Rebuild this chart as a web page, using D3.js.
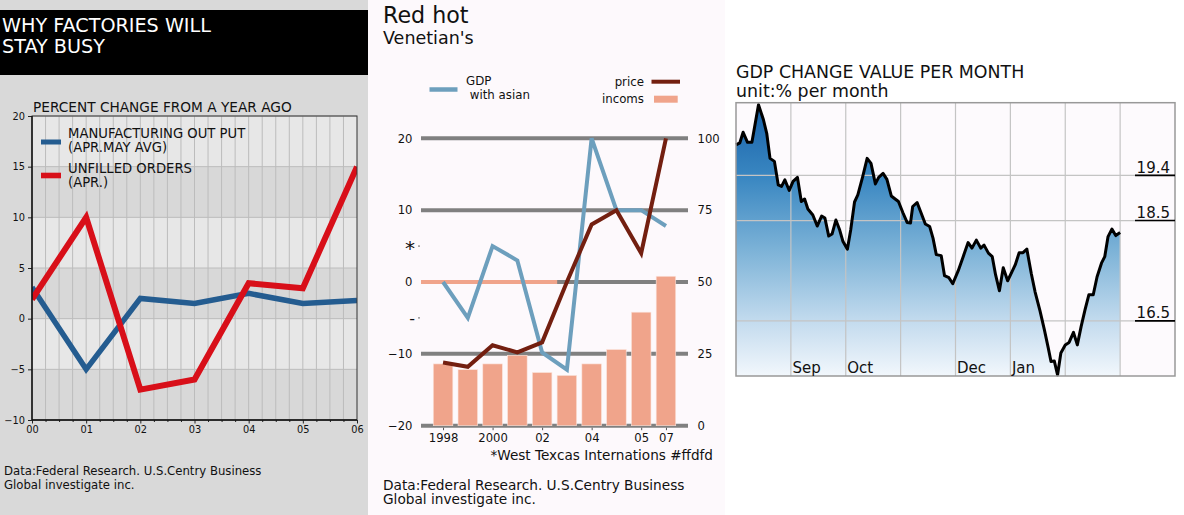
<!DOCTYPE html>
<html><head><meta charset="utf-8">
<script src="https://cdn.jsdelivr.net/npm/d3@7"></script>
<style>html,body{margin:0;padding:0;background:#fff;}svg{display:block;font-family:"DejaVu Sans",sans-serif;}</style>
</head><body>
<script>
// ---------- Left panel data ----------
const leftYears = ["00","01","02","03","04","05","06"];
const mfgOutput = [3.1, -5, 2, 1.5, 2.5, 1.5, 1.8];
const unfilledOrders = [1.9, 10, -7, -6, 3.5, 3, 15];
const leftYTicks = [-10, -5, 0, 5, 10, 15, 20];

// ---------- Middle panel data ----------
const midYears = ["1998","1999","2000","2001","2002","2003","2004","2005","2006","2007"];
const midXLabels = {"1998":"1998","2000":"2000","2002":"02","2004":"04","2006":"05","2007":"07"};
const gdpAsian = [0, -5, 5, 3, -9.8, -12.2, 20, 10, 10, 7.8];
const price = [22, 20.5, 28, 25.5, 29, 50, 70, 75, 60, 100];
const incoms = [21.5, 19.5, 21.5, 24.5, 18.5, 17.5, 21.5, 26.5, 39.5, 52];
const midLeftTicks = [-20, -10, 0, 10, 20];
const midOddTicks = [[5, "*"], [-5, "-"]];
const midRightTicks = [0, 25, 50, 75, 100];

// ---------- Right panel data ----------
const gdpMonthT = [0,0.07,0.13,0.21,0.29,0.41,0.50,0.56,0.62,0.70,0.77,0.83,0.89,0.97,1.04,1.12,1.19,1.25,1.31,1.40,1.48,1.56,1.62,1.69,1.75,1.82,1.89,1.95,2.03,2.09,2.16,2.22,2.31,2.39,2.46,2.54,2.60,2.68,2.75,2.83,2.90,2.96,3.04,3.12,3.18,3.22,3.30,3.37,3.45,3.53,3.59,3.65,3.74,3.80,3.88,3.95,4.05,4.14,4.23,4.30,4.38,4.46,4.52,4.60,4.67,4.73,4.80,4.87,4.95,5.03,5.09,5.16,5.23,5.30,5.38,5.45,5.54,5.62,5.69,5.74,5.80,5.86,5.92,6.00,6.07,6.15,6.22,6.29,6.36,6.43,6.51,6.58,6.66,6.72,6.78,6.85,6.92,7.00];
const gdpMonthV = [20.01,20.05,20.26,20.06,20.06,20.81,20.51,20.24,19.74,19.68,19.21,19.18,19.31,19.10,19.28,19.36,18.88,18.93,18.73,18.61,18.39,18.59,18.55,18.19,18.23,18.51,18.31,18.08,17.93,18.31,18.87,19.01,19.38,19.74,19.64,19.23,19.36,19.44,19.32,18.99,18.93,18.88,18.66,18.46,18.45,18.78,18.86,18.66,18.43,18.38,18.15,17.82,17.80,17.40,17.36,17.24,17.50,17.78,18.06,17.95,18.11,17.95,18.01,17.85,17.78,17.42,17.10,17.56,17.30,17.48,17.62,17.86,17.86,17.93,17.45,17.08,16.70,16.32,15.96,15.69,15.70,15.42,15.86,16.02,16.07,16.27,16.02,16.39,16.72,17.02,17.02,17.38,17.65,17.78,18.18,18.33,18.20,18.26];
const monthTicks = [1, 2, 3, 4, 5, 6, 7];
const monthLabels = ["Sep", "Oct", "", "Dec", "Jan", "", ""];
const gdpLevels = [16.5, 18.5, 19.4];

const svg = d3.select("body").append("svg").attr("width", 1184).attr("height", 515);
const FONT = "DejaVu Sans";

// ================= LEFT PANEL =================
svg.append("rect").attr("x", 0).attr("y", 0).attr("width", 368).attr("height", 515).attr("fill", "#d9d9d9");
svg.append("rect").attr("x", 0).attr("y", 10).attr("width", 368).attr("height", 65).attr("fill", "#000");
svg.append("text").attr("x", 2).attr("y", 31.5).attr("fill", "#fff").attr("font-size", 19.2).text("WHY FACTORIES WILL");
svg.append("text").attr("x", 2).attr("y", 53.3).attr("fill", "#fff").attr("font-size", 19.2).text("STAY BUSY");
svg.append("text").attr("x", 33).attr("y", 111.5).attr("fill", "#111").attr("font-size", 13.7).text("PERCENT CHANGE FROM A YEAR AGO");

const lx = d3.scaleLinear().domain([0, 6]).range([32, 357]);
const ly = d3.scaleLinear().domain([-10, 20]).range([420, 116]);
const L = svg.append("g");
// alternating bands
d3.range(-10, 20, 5).forEach(b => {
  L.append("rect").attr("x", lx(0)).attr("width", lx(6) - lx(0))
    .attr("y", ly(b + 5)).attr("height", ly(b) - ly(b + 5))
    .attr("fill", (Math.abs(b / 5) % 2 === 1) ? "#e7e7e7" : "#d8d8d8");
});
// minor vertical grid
L.selectAll(".vg").data(d3.range(0.25, 6, 0.25)).join("line")
  .attr("x1", d => lx(d)).attr("x2", d => lx(d)).attr("y1", ly(20)).attr("y2", ly(-10))
  .attr("stroke", "#bcbcbc").attr("stroke-width", 1);
L.selectAll(".hg").data(leftYTicks).join("line")
  .attr("x1", lx(0)).attr("x2", lx(6)).attr("y1", d => ly(d)).attr("y2", d => ly(d))
  .attr("stroke", "#bcbcbc").attr("stroke-width", 1);
// axes
const lAxisY = L.append("g").attr("transform", `translate(${lx(0)},0)`)
  .call(d3.axisLeft(ly).tickValues(leftYTicks).tickSize(4).tickPadding(3).tickFormat(d => d < 0 ? "\u2212" + Math.abs(d) : d));
const lAxisX = L.append("g").attr("transform", `translate(0,${ly(-10)})`)
  .call(d3.axisBottom(lx).tickValues(d3.range(0, 7)).tickSize(3.5).tickPadding(2.5).tickFormat(d => leftYears[d]));
L.append("g").attr("transform", `translate(0,${ly(-10)})`)
  .call(d3.axisBottom(lx).tickValues(d3.range(0.25, 6, 0.25).filter(d => d % 1 !== 0)).tickSize(2).tickFormat(""))
  .select(".domain").remove();
[lAxisY, lAxisX].forEach(a => { a.selectAll("text").attr("font-size", 9.8).attr("fill", "#111").attr("font-family", FONT); a.select(".domain").remove(); });
L.selectAll(".tick line").attr("stroke", "#222");
// clip
svg.append("clipPath").attr("id", "lclip").append("rect").attr("x", lx(0)).attr("y", ly(20)).attr("width", lx(6) - lx(0)).attr("height", ly(-10) - ly(20));
const lline = d3.line().x((d, i) => lx(i)).y(d => ly(d));
L.append("path").datum(mfgOutput).attr("d", lline).attr("fill", "none").attr("stroke", "#245c90").attr("stroke-width", 5.5).attr("clip-path", "url(#lclip)");
L.append("path").datum(unfilledOrders).attr("d", lline).attr("fill", "none").attr("stroke", "#d80f19").attr("stroke-width", 6).attr("clip-path", "url(#lclip)");
// frame
L.append("rect").attr("x", lx(0)).attr("y", ly(20)).attr("width", lx(6) - lx(0)).attr("height", ly(-10) - ly(20)).attr("fill", "none").attr("stroke", "#333").attr("stroke-width", 1);
L.append("line").attr("x1", lx(0)).attr("x2", lx(0)).attr("y1", ly(20)).attr("y2", ly(-10)).attr("stroke", "#111").attr("stroke-width", 1.4);
L.append("line").attr("x1", lx(0)).attr("x2", lx(6)).attr("y1", ly(-10)).attr("y2", ly(-10)).attr("stroke", "#111").attr("stroke-width", 1.4);
// legend
L.append("rect").attr("x", 41).attr("y", 139.5).attr("width", 20).attr("height", 5).attr("fill", "#245c90");
L.append("rect").attr("x", 41).attr("y", 172.7).attr("width", 20).attr("height", 5.6).attr("fill", "#d80f19");
[["MANUFACTURING OUT PUT", 138.3], ["(APR.MAY AVG)", 152.3], ["UNFILLED ORDERS", 172.6], ["(APR.)", 186.6]].forEach(([t, y]) => {
  L.append("text").attr("x", 68).attr("y", y).attr("font-size", 13.2).attr("fill", "#111").text(t);
});
svg.append("text").attr("x", 4).attr("y", 475).attr("font-size", 11.7).attr("fill", "#111").text("Data:Federal Research. U.S.Centry Business");
svg.append("text").attr("x", 4).attr("y", 488.5).attr("font-size", 11.7).attr("fill", "#111").text("Global investigate inc.");

// ================= MIDDLE PANEL =================
svg.append("rect").attr("x", 368).attr("y", 0).attr("width", 357).attr("height", 515).attr("fill", "#fdf9fc");
svg.append("text").attr("x", 383).attr("y", 22.7).attr("font-size", 22.2).attr("fill", "#111").text("Red hot");
svg.append("text").attr("x", 383).attr("y", 44.3).attr("font-size", 17.5).attr("fill", "#111").text("Venetian's");

const mx = d3.scalePoint().domain(midYears).range([421, 688]).padding(0.89);
const myL = d3.scaleLinear().domain([-20, 20]).range([425.7, 138.3]);
const myR = d3.scaleLinear().domain([0, 100]).range([425.7, 138.3]);
const M = svg.append("g");
M.selectAll(".mg").data(midLeftTicks).join("line")
  .attr("x1", 421).attr("x2", 688).attr("y1", d => myL(d)).attr("y2", d => myL(d))
  .attr("stroke", "#808080").attr("stroke-width", 4);
// incoms reference line at 0 (axhline up to 51% of axis width)
M.append("line").attr("x1", 421).attr("x2", 421 + 0.51 * (688 - 421)).attr("y1", myL(0)).attr("y2", myL(0))
  .attr("stroke", "#f0a48b").attr("stroke-width", 4);
const bw = mx.step() * 0.79;
M.selectAll(".bar").data(incoms).join("rect")
  .attr("x", (d, i) => mx(midYears[i]) - bw / 2).attr("width", bw)
  .attr("y", d => myR(d)).attr("height", d => myR(0) - myR(d))
  .attr("fill", "#f0a48b").attr("stroke", "#fbe4dc").attr("stroke-width", 0.6);
M.append("path").datum(gdpAsian).attr("d", d3.line().x((d, i) => mx(midYears[i])).y(d => myL(d)))
  .attr("fill", "none").attr("stroke", "#6d9fbd").attr("stroke-width", 4);
M.append("path").datum(price).attr("d", d3.line().x((d, i) => mx(midYears[i])).y(d => myR(d)))
  .attr("fill", "none").attr("stroke", "#731f10").attr("stroke-width", 4);
// left labels
const mAxL = M.append("g").attr("transform", "translate(421,0)")
  .call(d3.axisLeft(myL).tickValues(midLeftTicks).tickSize(0).tickPadding(8.5).tickFormat(d => d < 0 ? "\u2212" + Math.abs(d) : d));
mAxL.select(".domain").remove();
mAxL.selectAll("text").attr("font-size", 11.6).attr("fill", "#111").attr("font-family", FONT);
midOddTicks.forEach(([v, s]) => {
  M.append("text").attr("x", 415).attr("y", myL(v) + (s === "*" ? 9 : 6)).attr("text-anchor", "end")
    .attr("font-size", s === "*" ? 20 : 16).attr("fill", "#111").text(s);
  M.append("line").attr("x1", 418).attr("x2", 420).attr("y1", myL(v)).attr("y2", myL(v)).attr("stroke", "#666").attr("stroke-width", 1);
});
const mAxR = M.append("g").attr("transform", "translate(688,0)")
  .call(d3.axisRight(myR).tickValues(midRightTicks).tickSize(0).tickPadding(9.5));
mAxR.select(".domain").remove();
mAxR.selectAll("text").attr("font-size", 11.6).attr("fill", "#111").attr("font-family", FONT);
const mAxX = M.append("g").attr("transform", `translate(0,${myL(-20) + 2})`)
  .call(d3.axisBottom(mx).tickValues(Object.keys(midXLabels)).tickSize(2.5).tickPadding(4).tickFormat(d => midXLabels[d]));
mAxX.select(".domain").remove();
mAxX.selectAll("text").attr("font-size", 11.6).attr("fill", "#111").attr("font-family", FONT);
mAxX.selectAll("line").attr("stroke", "#555");
// legend
M.append("line").attr("x1", 429.5).attr("x2", 457.5).attr("y1", 89.5).attr("y2", 89.5).attr("stroke", "#6d9fbd").attr("stroke-width", 4.5);
M.append("text").attr("x", 466).attr("y", 85).attr("font-size", 11.8).attr("fill", "#111").text("GDP");
M.append("text").attr("x", 466).attr("y", 99.3).attr("font-size", 11.8).attr("fill", "#111").attr("xml:space", "preserve").text(" with asian");
M.append("text").attr("x", 644).attr("y", 86).attr("text-anchor", "end").attr("font-size", 11.8).attr("fill", "#111").text("price");
M.append("line").attr("x1", 651.5).attr("x2", 680).attr("y1", 81.7).attr("y2", 81.7).attr("stroke", "#731f10").attr("stroke-width", 4);
M.append("text").attr("x", 644).attr("y", 102.7).attr("text-anchor", "end").attr("font-size", 11.8).attr("fill", "#111").text("incoms");
M.append("rect").attr("x", 654).attr("y", 95.7).attr("width", 23.7).attr("height", 7).attr("fill", "#f0a48b");
svg.append("text").attr("x", 713).attr("y", 460).attr("text-anchor", "end").attr("font-size", 13.6).attr("fill", "#111").text("*West Texcas Internations #ffdfd");
svg.append("text").attr("x", 383).attr("y", 490).attr("font-size", 13.7).attr("fill", "#111").text("Data:Federal Research. U.S.Centry Business");
svg.append("text").attr("x", 383).attr("y", 504).attr("font-size", 13.7).attr("fill", "#111").text("Global investigate inc.");

// ================= RIGHT PANEL =================
svg.append("rect").attr("x", 725).attr("y", 0).attr("width", 459).attr("height", 515).attr("fill", "#ffffff");
svg.append("text").attr("x", 736).attr("y", 78.3).attr("font-size", 17.4).attr("fill", "#111").text("GDP CHANGE VALUE PER MONTH");
svg.append("text").attr("x", 736).attr("y", 96.8).attr("font-size", 17.4).attr("fill", "#111").text("unit:% per month");

const rx = d3.scaleLinear().domain([0, 8]).range([736, 1175]);
const ry = d3.scaleLinear().domain([15.4, 20.85]).range([376, 102.7]);
const R = svg.append("g");
R.append("rect").attr("x", rx(0)).attr("y", ry(20.85)).attr("width", rx(8) - rx(0)).attr("height", ry(15.4) - ry(20.85)).attr("fill", "#fdfafd");
const defs = svg.append("defs");
const grad = defs.append("linearGradient").attr("id", "blueGrad").attr("gradientUnits", "userSpaceOnUse")
  .attr("x1", 0).attr("x2", 0).attr("y1", ry(20.85)).attr("y2", ry(15.4));
[[0, "#1660a8"], [0.28, "#3b88c2"], [0.55, "#7fb4d8"], [0.8, "#c3dbee"], [1, "#f2f7fc"]].forEach(([o, c]) =>
  grad.append("stop").attr("offset", o).attr("stop-color", c));
const gdpPts = gdpMonthT.map((t, i) => [t, gdpMonthV[i]]);
R.append("path").datum(gdpPts).attr("d", d3.area().x(d => rx(d[0])).y0(ry(15.4)).y1(d => ry(d[1])))
  .attr("fill", "url(#blueGrad)");
R.selectAll(".rvg").data(monthTicks).join("line")
  .attr("x1", d => rx(d)).attr("x2", d => rx(d)).attr("y1", ry(20.85)).attr("y2", ry(15.4))
  .attr("stroke", "#c4c4c4").attr("stroke-width", 1.2);
R.selectAll(".rhg").data(gdpLevels).join("line")
  .attr("x1", rx(0)).attr("x2", rx(8)).attr("y1", d => ry(d)).attr("y2", d => ry(d))
  .attr("stroke", "#c4c4c4").attr("stroke-width", 1.2);
R.append("path").datum(gdpPts).attr("d", d3.line().x(d => rx(d[0])).y(d => ry(d[1])))
  .attr("fill", "none").attr("stroke", "#000").attr("stroke-width", 3).attr("stroke-linejoin", "round");
R.append("rect").attr("x", rx(0)).attr("y", ry(20.85)).attr("width", rx(8) - rx(0)).attr("height", ry(15.4) - ry(20.85))
  .attr("fill", "none").attr("stroke", "#999").attr("stroke-width", 1.5);
monthTicks.forEach((m, i) => {
  if (monthLabels[i]) R.append("text").attr("x", rx(m) + 1.5).attr("y", 372.7).attr("font-size", 15).attr("fill", "#111").text(monthLabels[i]);
});
gdpLevels.forEach(v => {
  R.append("text").attr("x", 1170).attr("y", ry(v) - 2.4).attr("text-anchor", "end").attr("font-size", 15).attr("fill", "#111").text(v.toFixed(1));
  R.append("line").attr("x1", 1135).attr("x2", 1175).attr("y1", ry(v)).attr("y2", ry(v)).attr("stroke", "#000").attr("stroke-width", 1.6);
});
</script>
</body></html>
